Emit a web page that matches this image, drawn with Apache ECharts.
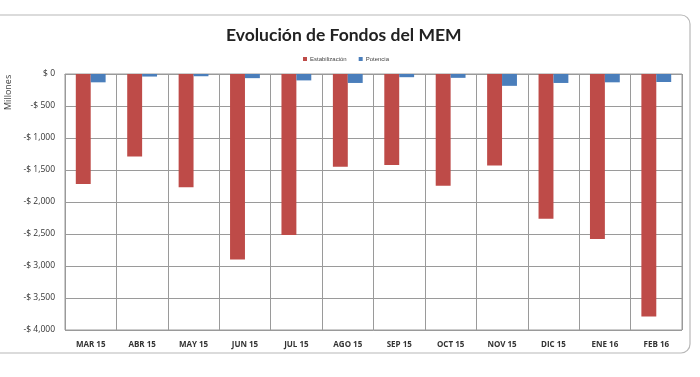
<!DOCTYPE html>
<html>
<head>
<meta charset="utf-8">
<script src="https://cdn.jsdelivr.net/npm/echarts@6/dist/echarts.min.js"></script>
<style>html,body{margin:0;padding:0;background:#fff}#c{width:700px;height:377px}</style>
</head>
<body>
<div id="c"></div>
<script>
const categories = ['MAR 15','ABR 15','MAY 15','JUN 15','JUL 15','AGO 15','SEP 15','OCT 15','NOV 15','DIC 15','ENE 16','FEB 16'];
const estabilizacion = [-1720,-1290,-1770,-2900,-2515,-1450,-1420,-1745,-1430,-2260,-2580,-3790];
const potencia = [-130,-40,-35,-65,-100,-140,-50,-60,-185,-140,-130,-125];
const yMin = -4000, yMax = 0, yStep = 500;

const chart = echarts.init(document.getElementById('c'), null, {renderer:'canvas'});
chart.setOption({
  animation:false,
  backgroundColor:'#fff',
  graphic:[
    {type:'rect', shape:{x:-20,y:15,width:710,height:338,r:9}, style:{fill:'none',stroke:'#b8b8b8',lineWidth:1.2}, z:-1},
    {type:'text', x:4, y:110, rotation:Math.PI/2, style:{text:'Millones', font:'9px "Open Sans", sans-serif', fill:'#444'}}
  ],
  title:{text:'Evolución de Fondos del MEM', left:221, top:21,
    textStyle:{fontFamily:'Lato', fontWeight:'bold', fontSize:17.5, color:'#222'}},
  legend:{top:51, left:298, itemWidth:4, itemHeight:4, itemGap:12, icon:'rect',
    textStyle:{fontSize:6, color:'#444', padding:[0,0,0,-2]},
    data:['Estabilización','Potencia']},
  grid:{left:65, right:18, top:74, bottom:47, show:true, borderColor:'#9a9a9a', borderWidth:1},
  xAxis:{type:'category', data:categories, boundaryGap:true,
    axisLine:{lineStyle:{color:'#9a9a9a'}}, axisTick:{show:false},
    splitLine:{show:true, lineStyle:{color:'#9a9a9a'}},
    axisLabel:{color:'#333', fontSize:8, fontWeight:'bold', margin:11, fontFamily:'"Open Sans", sans-serif', interval:0}},
  yAxis:{type:'value', min:yMin, max:yMax, interval:yStep,
    axisLine:{show:false}, axisTick:{show:false},
    splitLine:{lineStyle:{color:'#9a9a9a'}},
    axisLabel:{color:'#333', fontSize:8.5, margin:10, fontFamily:'"Open Sans", sans-serif',
      formatter:v=> v===0 ? '$ 0' : '-$ ' + Math.abs(v).toLocaleString('en-US')}},
  series:[
    {name:'Estabilización', type:'bar', data:estabilizacion, barGap:'0%', barCategoryGap:'42%',
      itemStyle:{color:'#BE4B48'}},
    {name:'Potencia', type:'bar', data:potencia, itemStyle:{color:'#4A7EBB'}}
  ]
});
</script>
</body>
</html>
